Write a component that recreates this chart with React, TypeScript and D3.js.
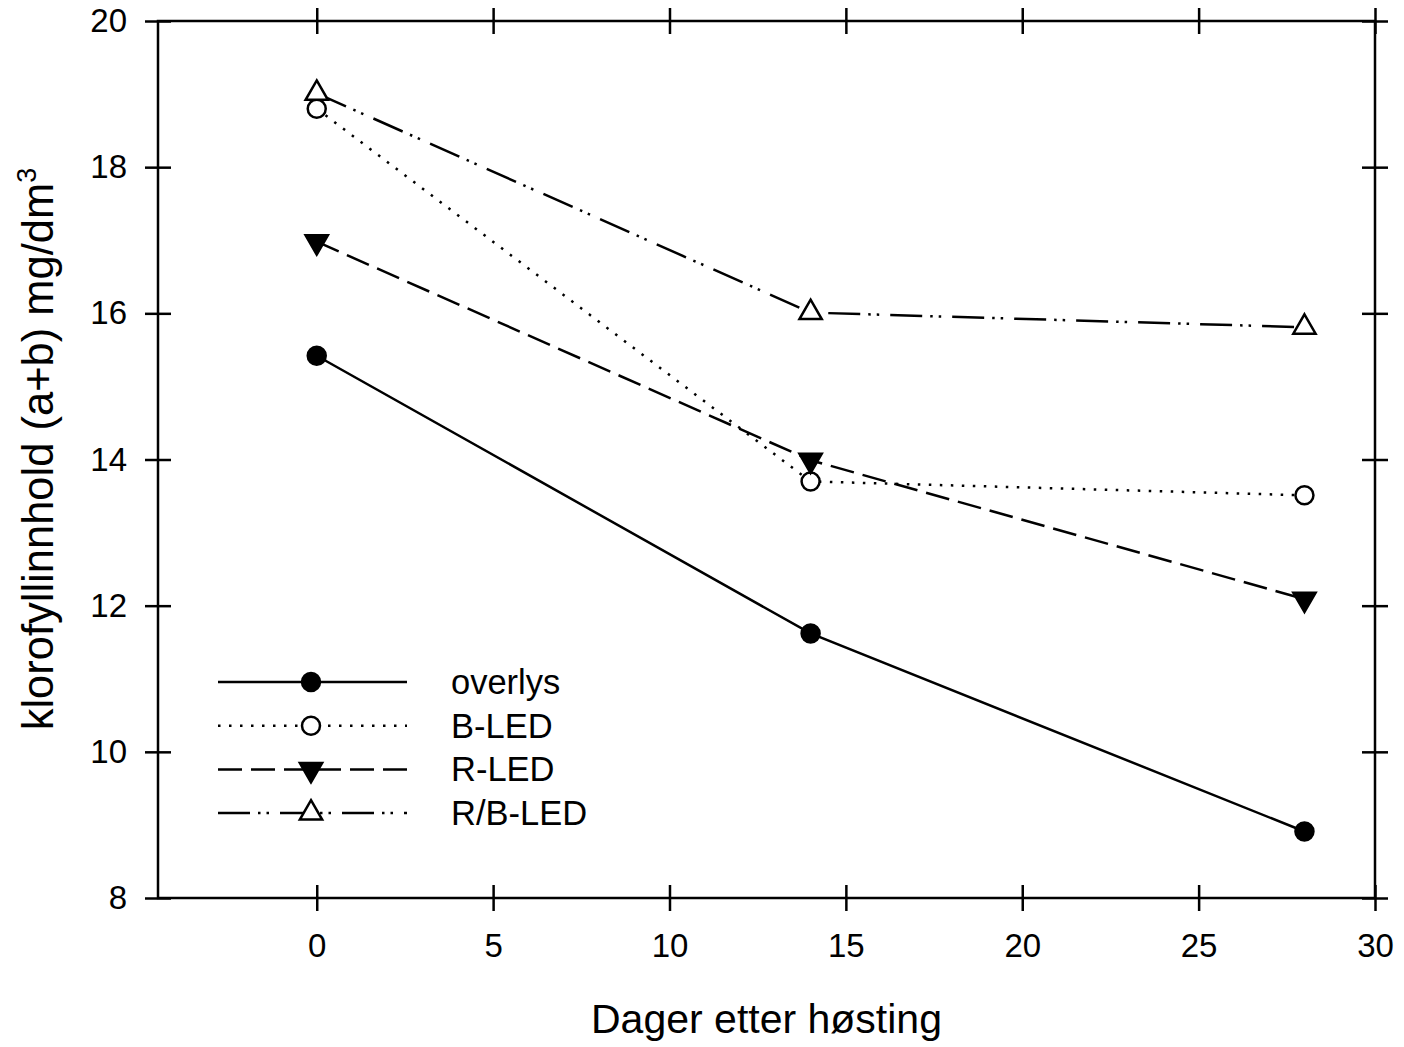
import * as d3 from "d3";
import { useRef, useEffect } from "react";

// days after harvest
const days = [0, 14, 28];

const seriesNames = ["overlys", "B-LED", "R-LED", "R/B-LED"];
const overlys = [15.42, 11.62, 8.91];
const bLed = [18.8, 13.7, 13.51];
const rLed = [16.98, 13.99, 12.09];
const rbLed = [19.01, 16.01, 15.81];

const xTicks = [0, 5, 10, 15, 20, 25, 30];
const yTicks = [8, 10, 12, 14, 16, 18, 20];

const App = () => {
  const container = useRef<SVGSVGElement | null>(null);

  useEffect(() => {
    createChart();
  });

  const createChart = () => {
    const width = 1404;
    const height = 1047;
    const margins = { l: 158, r: 29, t: 21, b: 149 };
    const font = "'Liberation Sans', Arial, sans-serif";
    const tick = 13;
    const sw = 2.5;

    const svg = d3.select(container.current);
    svg.selectAll("*").remove();

    const xScale = d3
      .scaleLinear()
      .domain([-4.5, 30])
      .range([margins.l, width - margins.r]);
    const yScale = d3
      .scaleLinear()
      .domain([8, 20])
      .range([height - margins.b, margins.t]);

    const styles = [
      { dash: null, marker: "circle", fill: "black" },
      { dash: "2.5 8.5", marker: "circle", fill: "white" },
      { dash: "24 9", marker: "down", fill: "black" },
      { dash: "32 8 2.5 6 2.5 11", marker: "up", fill: "white" },
    ];
    const data = [overlys, bLed, rLed, rbLed].map((vals, i) => ({
      name: seriesNames[i],
      pts: vals.map((v, j) => ({ x: days[j], y: v })),
      ...styles[i],
    }));

    const tri = d3.symbol().type(d3.symbolTriangle).size(215);

    const drawMarker = (g, type, fill, cx, cy) => {
      if (type === "circle") {
        g.append("circle")
          .attr("cx", cx)
          .attr("cy", cy)
          .attr("r", 9)
          .attr("fill", fill)
          .attr("stroke", "black")
          .attr("stroke-width", sw);
      } else {
        g.append("path")
          .attr("d", tri())
          .attr(
            "transform",
            `translate(${cx},${cy})` + (type === "down" ? " rotate(180)" : "")
          )
          .attr("fill", fill)
          .attr("stroke", "black")
          .attr("stroke-width", sw);
      }
    };

    // axes: ticks cross the frame
    const axes = [
      { ax: d3.axisLeft(yScale).tickValues(yTicks), tr: `translate(${margins.l + tick},0)`, labels: true },
      { ax: d3.axisLeft(yScale).tickValues(yTicks), tr: `translate(${width - margins.r + tick},0)`, labels: false },
      { ax: d3.axisBottom(xScale).tickValues(xTicks), tr: `translate(0,${height - margins.b - tick})`, labels: true },
      { ax: d3.axisBottom(xScale).tickValues(xTicks), tr: `translate(0,${margins.t - tick})`, labels: false },
    ];
    axes.forEach((a, i) => {
      const g = svg
        .append("g")
        .attr("transform", a.tr)
        .call(a.ax.tickSize(tick * 2).tickSizeOuter(0).tickPadding(i < 2 ? 18 : 23));
      g.select(".domain").remove();
      g.selectAll("line").attr("stroke", "black").attr("stroke-width", sw);
      g.selectAll("text")
        .attr("font-family", font)
        .attr("font-size", 33)
        .attr("fill", "black")
        .style("display", a.labels ? null : "none");
    });

    svg
      .append("rect")
      .attr("x", margins.l)
      .attr("y", margins.t)
      .attr("width", width - margins.r - margins.l)
      .attr("height", height - margins.b - margins.t)
      .attr("fill", "none")
      .attr("stroke", "black")
      .attr("stroke-width", sw);

    const line = d3
      .line<{ x: number; y: number }>()
      .x((d) => xScale(d.x))
      .y((d) => yScale(d.y));

    const plot_g = svg.append("g");
    data.forEach((s) => {
      plot_g
        .append("path")
        .attr("d", line(s.pts))
        .attr("fill", "none")
        .attr("stroke", "black")
        .attr("stroke-width", sw)
        .attr("stroke-dasharray", s.dash);
    });
    data.forEach((s) => {
      s.pts.forEach((p) => drawMarker(plot_g, s.marker, s.fill, xScale(p.x), yScale(p.y)));
    });

    // legend
    const legend_g = svg.append("g");
    data.forEach((s, i) => {
      const ly = 682 + i * 43.7;
      legend_g
        .append("line")
        .attr("x1", 218)
        .attr("x2", 407)
        .attr("y1", ly)
        .attr("y2", ly)
        .attr("stroke", "black")
        .attr("stroke-width", sw)
        .attr("stroke-dasharray", s.dash);
      drawMarker(legend_g, s.marker, s.fill, 311, ly);
      legend_g
        .append("text")
        .attr("x", 451)
        .attr("y", ly)
        .attr("dy", "0.35em")
        .attr("font-family", font)
        .attr("font-size", 34.5)
        .text(s.name);
    });

    // axis titles
    svg
      .append("text")
      .attr("x", (margins.l + width - margins.r) / 2)
      .attr("y", 1033)
      .attr("text-anchor", "middle")
      .attr("font-family", font)
      .attr("font-size", 41)
      .text("Dager etter høsting");

    const yt = svg
      .append("text")
      .attr("transform", `translate(53,449) rotate(-90)`)
      .attr("text-anchor", "middle")
      .attr("font-family", font)
      .attr("font-size", 43.5);
    yt.append("tspan").text("klorofyllinnhold (a+b) mg/dm");
    yt.append("tspan").attr("dy", -17).attr("font-size", 27).text("3");
  };

  return (
    <svg
      ref={container}
      width={1404}
      height={1047}
      style={{ position: "absolute", left: 0, top: 0, background: "white" }}
    />
  );
};

export default App;
